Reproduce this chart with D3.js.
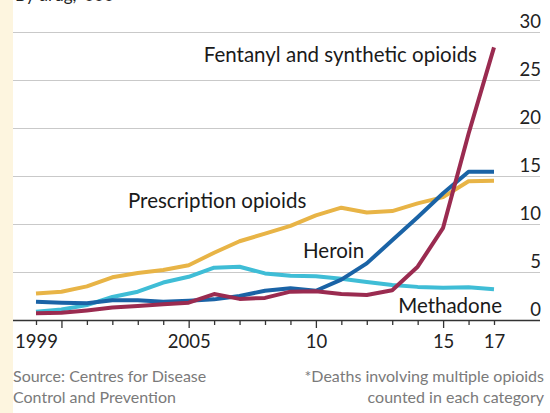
<!DOCTYPE html>
<html>
<head>
<meta charset="utf-8">
<script src="https://cdn.jsdelivr.net/npm/d3@7"></script>
<style>
  body { margin: 0; background: #fff; }
  svg { display: block; font-family: Lato, "Open Sans", sans-serif; }
</style>
</head>
<body>
<div id="grafico"></div>
<script>
// datos, en miles de muertes
const years = [1999, 2000, 2001, 2002, 2003, 2004, 2005, 2006, 2007, 2008,
               2009, 2010, 2011, 2012, 2013, 2014, 2015, 2016, 2017];
const prescription = [2.75, 2.95, 3.5, 4.45, 4.9, 5.2, 5.7, 7.0, 8.2, 9.0,
                      9.8, 10.9, 11.7, 11.2, 11.35, 12.15, 12.8, 14.45, 14.5];
const heroin = [1.9, 1.8, 1.75, 2.05, 2.05, 1.9, 2.0, 2.15, 2.5, 3.05,
                3.3, 3.05, 4.2, 5.9, 8.3, 10.7, 13.2, 15.45, 15.45];
const methadone = [0.85, 1.1, 1.55, 2.4, 2.95, 3.9, 4.5, 5.45, 5.55, 4.85,
                   4.6, 4.55, 4.3, 3.95, 3.65, 3.45, 3.35, 3.4, 3.2];
const fentanyl = [0.7, 0.75, 1.0, 1.3, 1.45, 1.65, 1.8, 2.7, 2.2, 2.3,
                  2.95, 3.0, 2.7, 2.6, 3.1, 5.55, 9.6, 19.4, 28.4];
const yTicks = [0, 5, 10, 15, 20, 25, 30];
const xLabels = {1999: "1999", 2005: "2005", 2010: "10", 2015: "15", 2017: "17"};

const WIDTH = 550;
const HEIGHT = 413;

const SVG = d3.select("#grafico").append("svg").attr("width", WIDTH).attr("height", HEIGHT);

// franja crema a la izquierda
SVG.append("rect").attr("x", 0).attr("y", 0).attr("width", 13).attr("height", HEIGHT).attr("fill", "#fdf5df");

var escalaX = d3.scaleLinear().domain([1999, 2017]).range([36, 494]);
var escalaY = d3.scaleLinear().domain([0, 30]).range([320, 32]);

// titulo (cortado arriba, como en el original)
SVG.append("text").attr("x", 15).attr("y", 1).attr("font-size", 17).attr("fill", "#222").text("By drug, '000");

// grilla y etiquetas del eje y
var ejeY = d3.axisRight(escalaY).tickValues(yTicks).tickSize(527).tickFormat(d3.format("d"));
var gY = SVG.append("g").attr("transform", "translate(13,0)").call(ejeY);
gY.select(".domain").remove();
gY.selectAll("line").attr("stroke", "#c9c9c9").attr("stroke-width", 1.2);
gY.selectAll("text")
    .attr("x", 528).attr("dy", -5)
    .attr("text-anchor", "end")
    .attr("font-size", 18.5).attr("fill", "#222")
    .style("font-family", "Lato, sans-serif");

// lineas
var linea = d3.line()
    .x((d, i) => escalaX(years[i]))
    .y(d => escalaY(d));

var series = [
    {valores: prescription, color: "#e8b446"},
    {valores: methadone, color: "#3fbdd6"},
    {valores: heroin, color: "#1a63a6"},
    {valores: fentanyl, color: "#9a2b50"}
];

SVG.selectAll(".serie")
    .data(series)
    .enter().append("path")
    .attr("class", "serie")
    .attr("d", d => linea(d.valores))
    .attr("fill", "none")
    .attr("stroke", d => d.color)
    .attr("stroke-width", 4)
    .attr("stroke-linejoin", "round");

// eje x
var ejeX = d3.axisBottom(escalaX)
    .tickValues(years)
    .tickSize(5)
    .tickPadding(10)
    .tickFormat(d => xLabels[d] || "");
var gX = SVG.append("g").attr("transform", "translate(0,320)").call(ejeX);
gX.select(".domain").attr("d", "M13,0.5H540").attr("stroke", "#333").attr("stroke-width", 1.4);
gX.selectAll(".tick line")
    .attr("stroke", "#333").attr("stroke-width", 1.3)
    .attr("y2", d => (d % 5 === 0 ? 8 : 5));
gX.selectAll(".tick text")
    .attr("font-size", 18.5).attr("fill", "#222")
    .style("font-family", "Lato, sans-serif");

// etiquetas de las series
var etiquetas = [
    {texto: "Fentanyl and synthetic opioids", x: 477, y: 62, anchor: "end"},
    {texto: "Prescription opioids", x: 128, y: 208, anchor: "start"},
    {texto: "Heroin", x: 303, y: 258, anchor: "start"},
    {texto: "Methadone", x: 502, y: 313, anchor: "end"}
];
SVG.selectAll(".etiqueta")
    .data(etiquetas)
    .enter().append("text")
    .attr("class", "etiqueta")
    .attr("x", d => d.x).attr("y", d => d.y)
    .attr("text-anchor", d => d.anchor)
    .attr("font-size", 20.5).attr("fill", "#1a1a1a")
    .text(d => d.texto);

// fuente y nota
var pie = SVG.append("g").attr("font-size", 16).attr("fill", "#7a7a7a");
pie.append("text").attr("x", 13).attr("y", 382).text("Source: Centres for Disease");
pie.append("text").attr("x", 13).attr("y", 403).text("Control and Prevention");
pie.append("text").attr("x", 544).attr("y", 382).attr("text-anchor", "end").text("*Deaths involving multiple opioids");
pie.append("text").attr("x", 544).attr("y", 403).attr("text-anchor", "end").text("counted in each category");
</script>
</body>
</html>
